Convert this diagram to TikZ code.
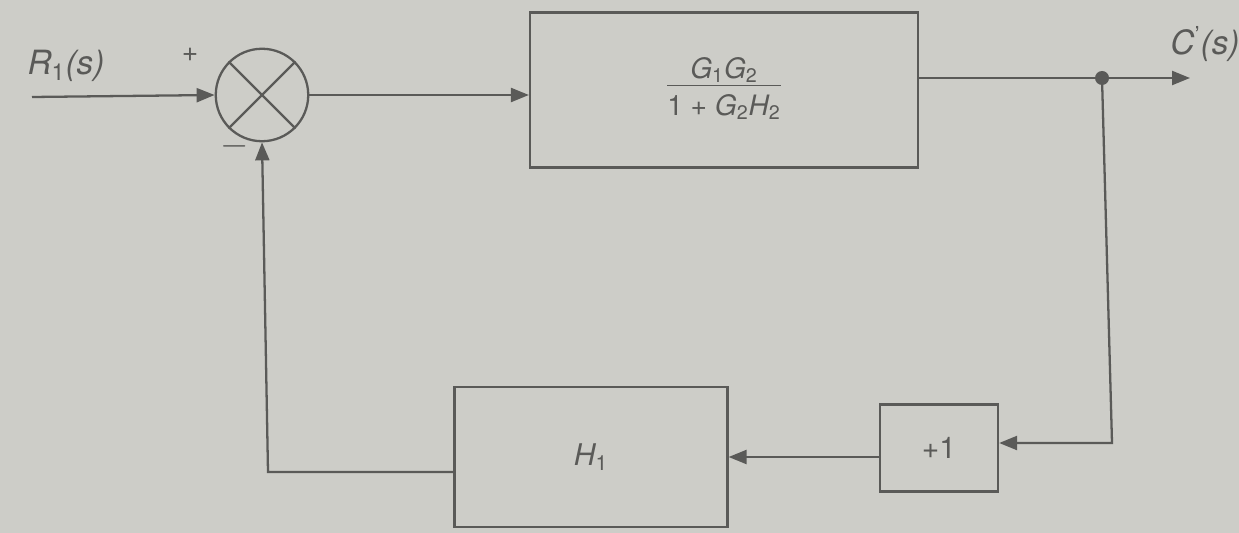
\documentclass[tikz,border=0pt]{standalone}
\usepackage{fontspec}
\setmainfont{TeX Gyre Heros}
\usetikzlibrary{arrows.meta}
\definecolor{bg}{HTML}{CDCDC8}
\definecolor{ink}{HTML}{5A5A58}
\newcommand{\lowidx}[1]{\textsubscript{\upshape #1}}
\begin{document}
\begin{tikzpicture}[x=0.02cm,y=-0.02cm,
  blk/.style={draw=ink,line width=1.3pt,inner sep=0pt},
  wire/.style={draw=ink,line width=1.3pt},
  arr/.style={wire,-{Triangle[length=0.36cm,width=0.28cm]}},
  lbl/.style={text=ink,font=\fontsize{19}{22}\selectfont\itshape}]
\fill[bg] (0,0) rectangle (1239,533);
\useasboundingbox (0,0) rectangle (1239,533);
% summing junction
\node[blk,circle,minimum size=1.85cm] (sum) at (262,95) {};
\draw[wire] (sum.north west) -- (sum.south east);
\draw[wire] (sum.north east) -- (sum.south west);
% blocks
\node[blk,minimum width=7.76cm,minimum height=3.1cm,text=ink,font=\fontsize{16}{19}\selectfont] (g) at (724,90)
  {\begin{tabular}{@{}c@{}}\itshape G\lowidx{1}G\lowidx{2}\\[-2pt]\hline\rule{0pt}{17pt}1 + \itshape G\lowidx{2}H\lowidx{2}\end{tabular}};
\node[blk,minimum width=5.46cm,minimum height=2.8cm,text=ink,font=\fontsize{17}{20}\selectfont\itshape] (h) at (591,457)
  {H\lowidx{1}};
\node[blk,minimum width=2.36cm,minimum height=1.74cm,text=ink,font=\fontsize{17}{20}\selectfont] (one) at (939,448)
  {+1};
% labels
\node[lbl] (r) at (66,66) {R\lowidx{1}(s)};
\node[lbl] (c) at (1205,44) {C\textsuperscript{\upshape '}(s)};
\node[text=ink,font=\fontsize{16}{18}\selectfont] (plus) at (190,55) {+};
\node[text=ink,font=\fontsize{20}{22}\selectfont] (minus) at (235,146) {$-$};
% coordinates
\coordinate (in) at (32,97);
\coordinate (dot) at (1102,78);
\coordinate (out) at (1190,78);
\coordinate (cr) at (1112,443);
\coordinate (hl) at (268,472);
% connectors
\draw[arr] (in) -- (sum.west);
\draw[arr] (sum.east) -- (g.west |- sum.east);
\draw[arr] (g.east |- dot) -- (out);
\fill[ink] (dot) circle (0.14cm);
\draw[arr] (dot) -- (cr) -- (one.east |- cr);
\draw[arr] (one.west |- h.east) -- (h.east);
\draw[arr] (h.west |- hl) -- (hl) -- (sum.south);
\end{tikzpicture}
\end{document}
